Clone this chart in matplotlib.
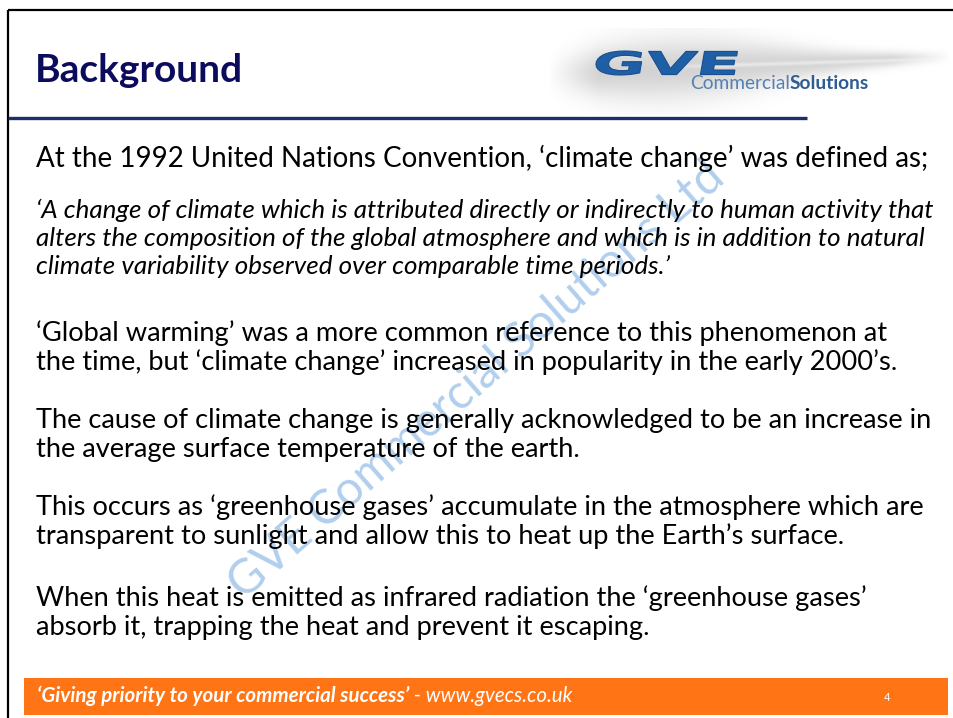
import numpy as np
import matplotlib
matplotlib.use("Agg")
import matplotlib.pyplot as plt
from matplotlib.textpath import TextPath
from matplotlib.font_manager import FontProperties
from matplotlib.patches import PathPatch, Rectangle
from matplotlib.transforms import Affine2D

# ---------------- content ----------------
title = "Background"
intro_line = "At the 1992 United Nations Convention, \u2018climate change\u2019 was defined as;"
quote_lines = [
    "\u2018A change of climate which is attributed directly or indirectly to human activity that",
    "alters the composition of the global atmosphere and which is in addition to natural",
    "climate variability observed over comparable time periods.\u2019",
]
para_lines = [
    ["\u2018Global warming\u2019 was a more common reference to this phenomenon at",
     "the time, but \u2018climate change\u2019 increased in popularity in the early 2000\u2019s."],
    ["The cause of climate change is generally acknowledged to be an increase in",
     "the average surface temperature of the earth."],
    ["This occurs as \u2018greenhouse gases\u2019 accumulate in the atmosphere which are",
     "transparent to sunlight and allow this to heat up the Earth\u2019s surface."],
    ["When this heat is emitted as infrared radiation the \u2018greenhouse gases\u2019",
     "absorb it, trapping the heat and prevent it escaping."],
]
footer_bold = "\u2018Giving priority to your commercial success\u2019"
footer_rest = " - www.gvecs.co.uk"
page_no = "4"
watermark = "GVE Commercial Solutions Ltd"
logo_main = "GVE"
logo_sub1 = "Commercial"
logo_sub2 = "Solutions"

# ---------------- layout ----------------
W, H = 954, 718
FONT = "Lato"
fig = plt.figure(figsize=(W / 100, H / 100), dpi=100)
ax = fig.add_axes([0, 0, 1, 1])
ax.set_xlim(0, W)
ax.set_ylim(H, 0)
ax.axis("off")
fig.patch.set_facecolor("white")
fig.canvas.draw()
R = fig.canvas.get_renderer()


def fit(t, target_w):
    bb = t.get_window_extent(R)
    t.set_fontsize(t.get_fontsize() * target_w / bb.width)


def txt(x, y, s, size, **kw):
    kw.setdefault("family", FONT)
    kw.setdefault("va", "baseline")
    kw.setdefault("ha", "left")
    return ax.text(x, y, s, fontsize=size, **kw)


# borders
ax.plot([8, 8], [10, H], color="black", lw=1.6, solid_capstyle="butt")
ax.plot([8, W], [10, 10], color="black", lw=1.6, solid_capstyle="butt")
ax.plot([8, 807], [118, 118], color="#1c2f6b", lw=2.4, solid_capstyle="butt")

# logo swoosh (soft grey)
xs = np.linspace(540, 954, 420)
ys = np.linspace(28, 115, 90)
X, Y = np.meshgrid(xs, ys)
yc = 74 - 0.045 * (X - 560)
hh = 26 * np.exp(-((X - 670) / 140) ** 2) + 5
env = np.clip((X - 548) / 50, 0, 1) * np.clip((952 - X) / 60, 0, 1)
alpha = 0.38 * np.exp(-((Y - yc) / hh) ** 2) * env
streak = 0.5 * np.exp(-((Y - (66 - 0.03 * (X - 700))) / 2.0) ** 2) * np.clip((X - 650) / 60, 0, 1) * env
img = np.zeros(X.shape + (4,))
img[..., :3] = 0.55
img[..., 3] = alpha
ax.imshow(img, extent=(540, 954, 115, 28), origin="upper", aspect="auto", zorder=1, interpolation="bilinear")
img2 = np.ones(X.shape + (4,))
img2[..., 3] = streak
ax.imshow(img2, extent=(540, 954, 115, 28), origin="upper", aspect="auto", zorder=1.1, interpolation="bilinear")
ax.set_xlim(0, W)
ax.set_ylim(H, 0)

# logo "GVE" (wide, heavy, slightly slanted)
fp = FontProperties(family="DejaVu Sans", weight="bold")
tp = TextPath((0, 0), logo_main, size=100, prop=fp)
ext = tp.get_extents()
x0, x1, y0, y1 = 590, 730, 51, 75
sx = (x1 - x0) / ext.width
sy = (y1 - y0) / ext.height
tr = (Affine2D().translate(-ext.x0, -ext.y0).scale(sx, -sy)
      .skew_deg(-10, 0).translate(x0 + 4, y1))
ax.add_patch(PathPatch(tr.transform_path(tp), facecolor="#1f5fa6", edgecolor="#174f90", lw=0.8, zorder=3))

t1 = txt(690, 89, logo_sub1, 12, color="#5680b0", fontweight="normal")
fig.canvas.draw()
bb = t1.get_window_extent(R)
t2 = txt(0, 89, logo_sub2, 12, color="#2f5d92", fontweight="bold")
w2 = t2.get_window_extent(R).width
total = bb.width + w2
scale = (868 - 690) / total
t1.set_fontsize(12 * scale)
t2.set_fontsize(12 * scale)
fig.canvas.draw()
bb = t1.get_window_extent(R)
t2.set_x(690 + bb.width)

# title
tt = txt(35, 82, title, 27, color="#0c0c5c", fontweight="bold")
fit(tt, 243 - 35)

# body text
BODY = "#000000"
left = 36
t = txt(left, 167, intro_line, 18, color=BODY)
fit(t, 925 - left)

q_base = [218, 246, 274]
q_right = [928, 928, 498]
qts = [txt(left, y, s, 16, color=BODY, style="italic") for y, s in zip(q_base, quote_lines)]
ratios = [(r - left) / q.get_window_extent(R).width for q, r in zip(qts[:2], q_right[:2])]
qs = 16 * float(np.mean(ratios))
for q in qts:
    q.set_fontsize(qs)

p_base = [[341, 370], [428, 457], [515, 544], [606, 635]]
p_right = [[893, 928], [928, 579], [923, 838], [866, 755]]
pts = []
rats = []
for lines, bases, rights in zip(para_lines, p_base, p_right):
    for s, y, r in zip(lines, bases, rights):
        tt_ = txt(left, y, s, 18, color=BODY)
        pts.append(tt_)
        rats.append((r - left) / tt_.get_window_extent(R).width)
ps = 18 * float(np.median(rats))
for p in pts:
    p.set_fontsize(ps)

# watermark
wm = ax.text(0, 0, watermark, fontsize=26, family=FONT, color="#a3c6ea", alpha=0.85,
             ha="center", va="center", zorder=0.5)
fit(wm, 640)
wm.set_position((476, 380))
wm.set_rotation(41)
wm.set_rotation_mode("anchor")

# footer
ax.add_patch(Rectangle((24, 678), 948 - 24, 37, facecolor="#ff7415", edgecolor="none", zorder=2))
fb = txt(37, 702, footer_bold, 12, color="white", style="italic", fontweight="bold", zorder=3)
fr = txt(0, 702, footer_rest, 12, color="white", style="italic", zorder=3)
fig.canvas.draw()
wb = fb.get_window_extent(R).width
wr = fr.get_window_extent(R).width
sc = (572 - 37) / (wb + wr)
fb.set_fontsize(12 * sc)
fr.set_fontsize(12 * sc)
fig.canvas.draw()
fr.set_x(37 + fb.get_window_extent(R).width)
txt(887, 701, page_no, 8, color="white", ha="center", zorder=3)

fig.savefig("out.png", dpi=100, facecolor="white")
